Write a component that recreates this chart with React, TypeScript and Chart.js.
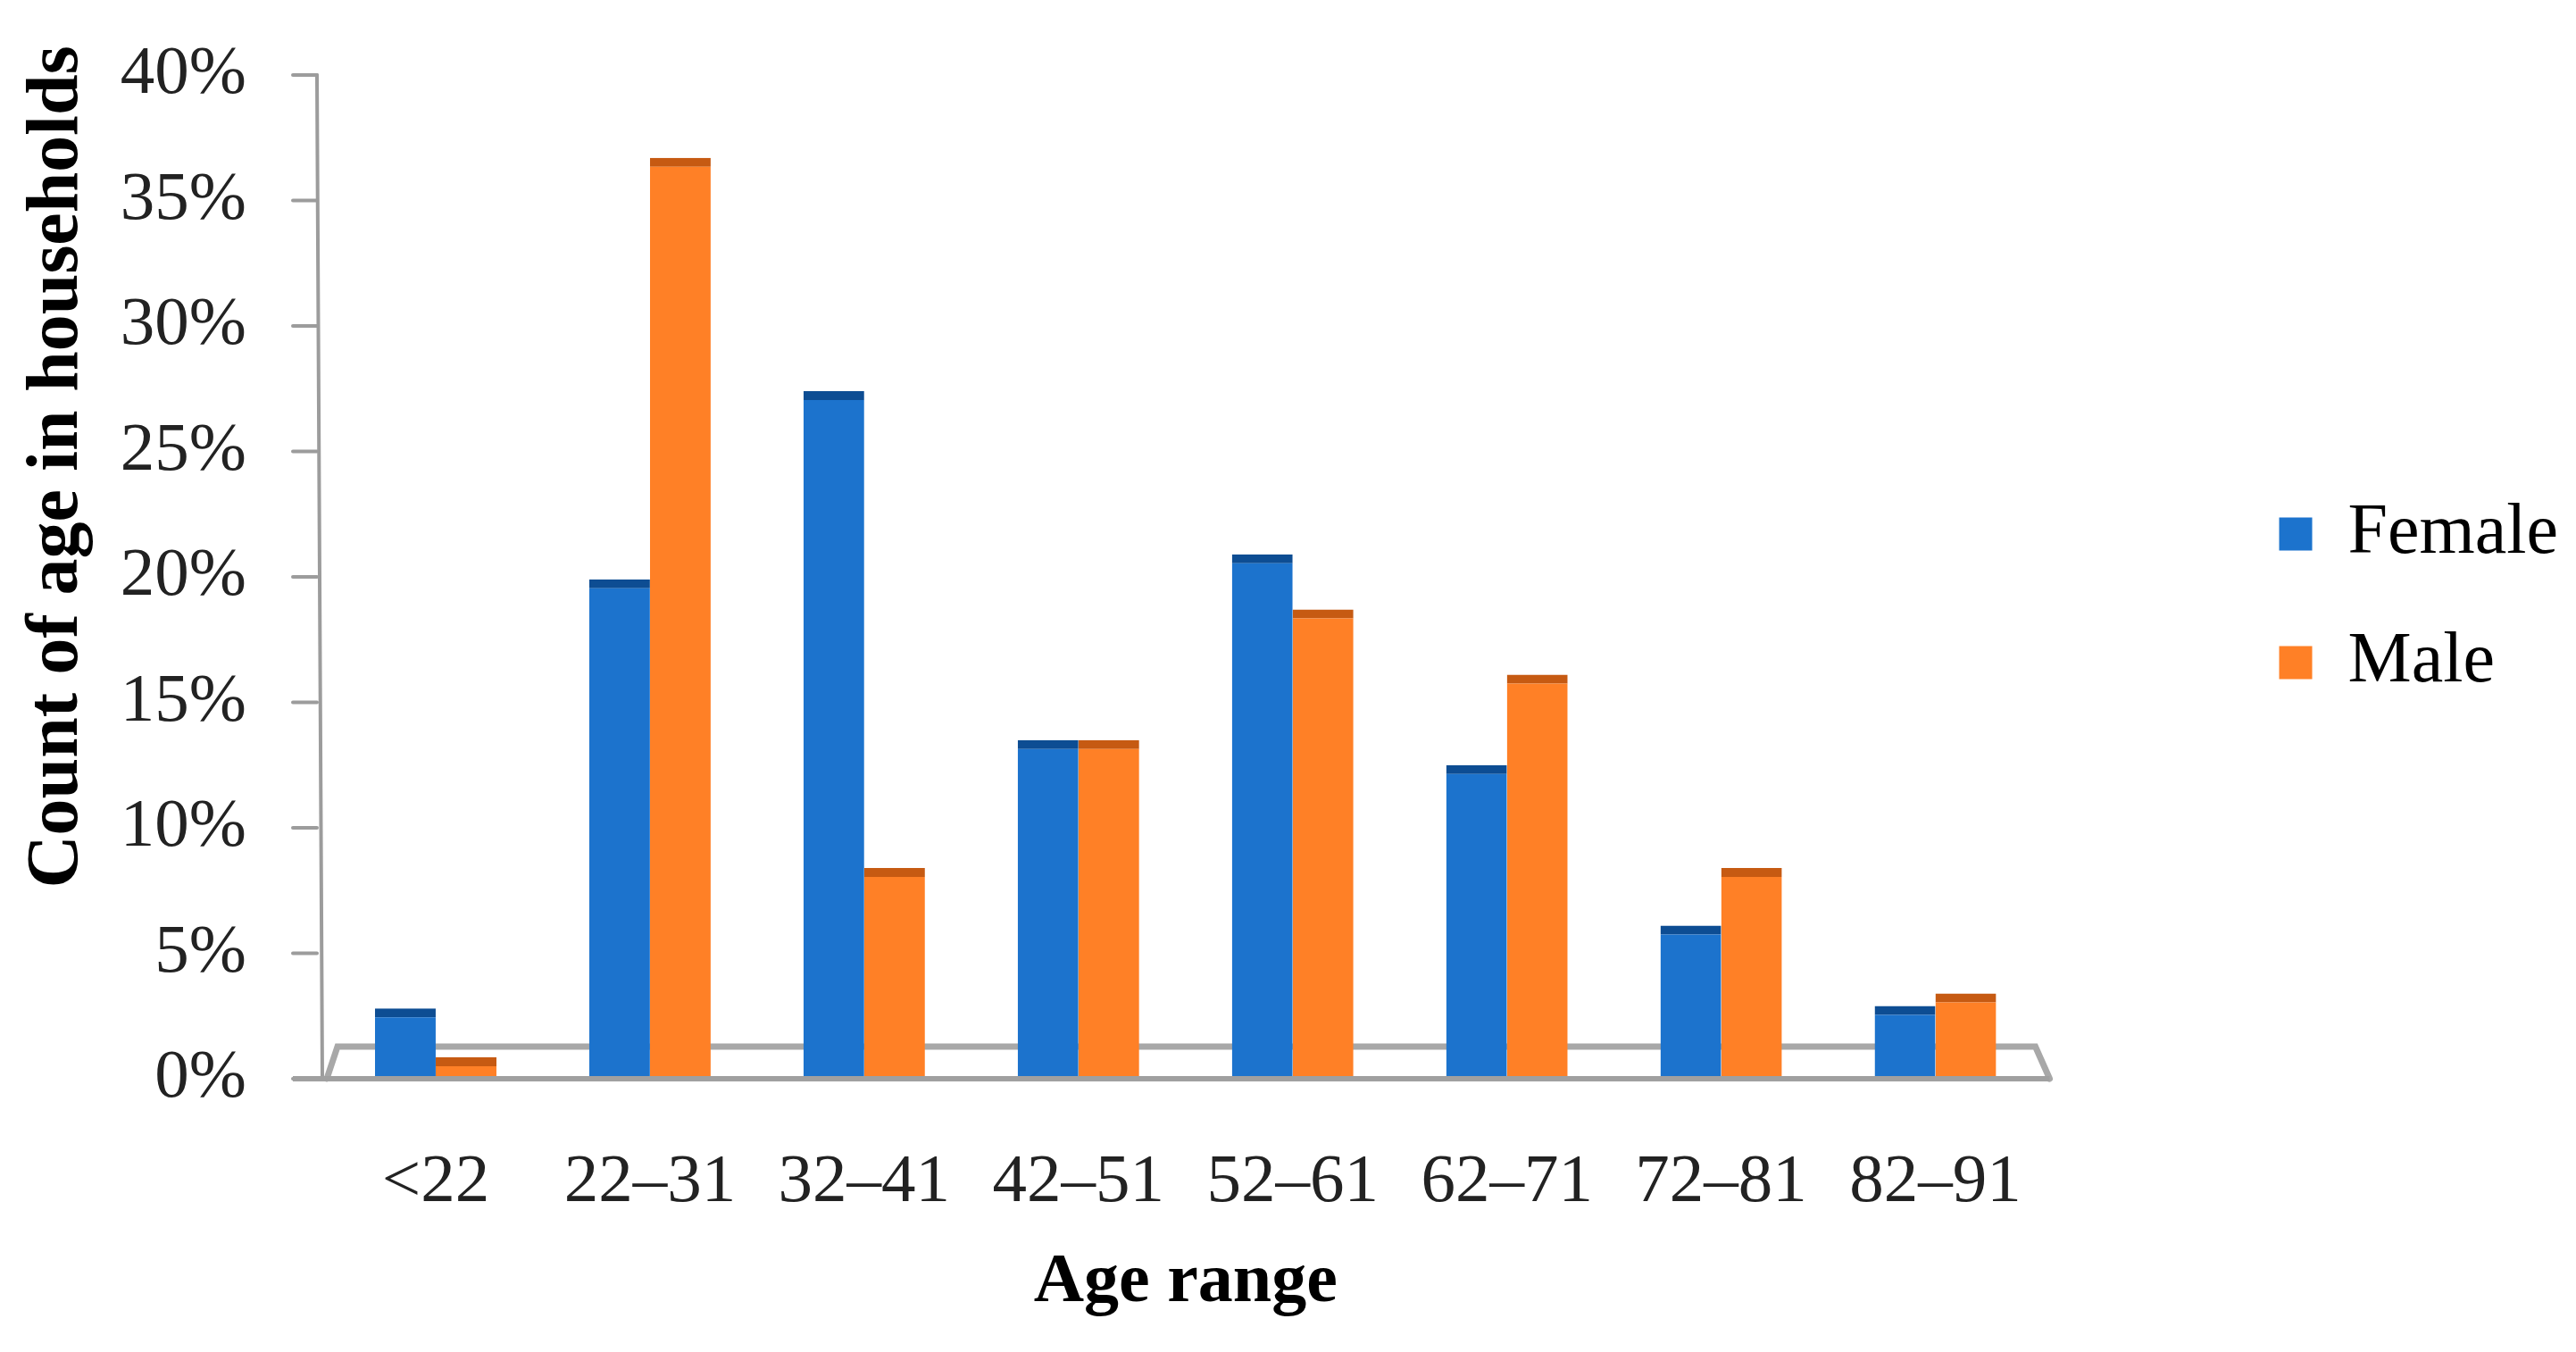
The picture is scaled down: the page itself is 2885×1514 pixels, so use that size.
import { useEffect, useRef } from 'react';
import { Chart, registerables } from 'chart.js';

Chart.register(...registerables);

const categories = ['<22', '22–31', '32–41', '42–51', '52–61', '62–71', '72–81', '82–91'];
const femaleValues = [2.8, 19.9, 27.4, 13.5, 20.9, 12.5, 6.1, 2.9];
const maleValues = [0.85, 36.7, 8.4, 13.5, 18.7, 16.1, 8.4, 3.4];
const seriesNames = ['Female', 'Male'];
const yTickValues = [0, 5, 10, 15, 20, 25, 30, 35, 40];
const yTitle = 'Count of age in households';
const xTitle = 'Age range';

const FONT = '"Liberation Serif", "Times New Roman", serif';

const frame3d = {
  id: 'frame3d',
  beforeDatasetsDraw(chart: any) {
    const { ctx, chartArea } = chart;
    const { left, right, bottom } = chartArea;
    const ys = chart.scales.y;
    const axisX = left - 13;
    ctx.save();
    ctx.lineCap = 'round';
    ctx.strokeStyle = '#9c9c9c';
    ctx.lineWidth = 4;
    ctx.beginPath();
    ctx.moveTo(axisX, ys.getPixelForValue(yTickValues[yTickValues.length - 1]));
    ctx.lineTo(axisX + 6, bottom);
    ctx.stroke();
    yTickValues.forEach((v) => {
      const py = ys.getPixelForValue(v);
      ctx.beginPath();
      ctx.moveTo(axisX - 27, py);
      ctx.lineTo(axisX, py);
      ctx.stroke();
    });
    ctx.strokeStyle = '#a8a8a8';
    ctx.lineWidth = 7;
    ctx.beginPath();
    ctx.moveTo(left - 2, bottom);
    ctx.lineTo(left + 10, bottom - 36);
    ctx.lineTo(right - 8, bottom - 36);
    ctx.lineTo(right + 8, bottom);
    ctx.stroke();
    ctx.restore();
  },
  afterDatasetsDraw(chart: any) {
    const { ctx, chartArea } = chart;
    const { left, right, bottom } = chartArea;
    ctx.save();
    ctx.strokeStyle = '#a0a0a0';
    ctx.lineWidth = 6;
    ctx.beginPath();
    ctx.moveTo(left - 40, bottom);
    ctx.lineTo(right + 8, bottom);
    ctx.stroke();
    ctx.restore();
  },
  afterDraw(chart: any) {
    const { ctx } = chart;
    ctx.save();
    ctx.translate(65, 523);
    ctx.rotate(-Math.PI / 2);
    ctx.font = 'bold 82px ' + FONT;
    ctx.fillStyle = '#000';
    ctx.textAlign = 'center';
    ctx.textBaseline = 'middle';
    ctx.fillText(yTitle, 0, 0);
    ctx.restore();
  },
};

export default function App() {
  const ref = useRef<HTMLCanvasElement | null>(null);

  useEffect(() => {
    if (!ref.current) return;
    const chart = new Chart(ref.current, {
      type: 'bar',
      data: {
        labels: categories,
        datasets: [
          {
            label: seriesNames[0],
            data: femaleValues,
            backgroundColor: '#1c73cd',
            borderColor: '#0d4d93',
            borderWidth: { top: 10, left: 0, right: 0, bottom: 0 },
            borderSkipped: false,
            categoryPercentage: 0.567,
            barPercentage: 1.0,
          },
          {
            label: seriesNames[1],
            data: maleValues,
            backgroundColor: '#ff8026',
            borderColor: '#c65a12',
            borderWidth: { top: 10, left: 0, right: 0, bottom: 0 },
            borderSkipped: false,
            categoryPercentage: 0.567,
            barPercentage: 1.0,
          },
        ],
      },
      options: {
        animation: false,
        responsive: true,
        maintainAspectRatio: false,
        devicePixelRatio: 1,
        layout: { padding: { top: 84, left: 0, right: 10, bottom: 0 } },
        plugins: {
          tooltip: { enabled: false },
          legend: {
            position: 'right',
            align: 'center',
            fullSize: false,
            title: { display: true, text: ' ', font: { size: 10, lineHeight: 1 }, padding: 19 },
            labels: {
              boxWidth: 37,
              boxHeight: 37,
              padding: 64,
              color: '#000',
              font: { family: FONT, size: 80 },
              generateLabels: (c: any) =>
                Chart.defaults.plugins.legend.labels
                  .generateLabels(c)
                  .map((l: any) => ({ ...l, lineWidth: 0, strokeStyle: 'rgba(0,0,0,0)' })),
            },
          },
        },
        scales: {
          x: {
            grid: { display: false, drawTicks: false },
            border: { display: false },
            ticks: {
              padding: 71,
              color: '#222',
              autoSkip: false,
              maxRotation: 0,
              font: { family: FONT, size: 77 },
            },
            title: {
              display: true,
              text: xTitle,
              color: '#000',
              font: { family: FONT, size: 78, weight: 'bold' },
              padding: { top: 0, bottom: 30 },
            },
            afterFit: (s: any) => {
              s.height = 306;
            },
          },
          y: {
            min: 0,
            max: 40,
            grid: {
              display: true,
              drawOnChartArea: false,
              drawTicks: true,
              tickLength: 62,
              color: 'rgba(0,0,0,0)',
            },
            border: { display: false },
            ticks: {
              stepSize: 5,
              padding: 30,
              color: '#222',
              font: { family: FONT, size: 77 },
              callback: (v: any) => v + '%',
            },
            afterFit: (s: any) => {
              s.width = 368;
            },
          },
          y2: {
            position: 'right',
            grid: { display: false, drawTicks: false },
            border: { display: false },
            ticks: { display: false },
            afterFit: (s: any) => {
              s.width = 201;
            },
          },
        },
      } as any,
      plugins: [frame3d],
    });
    return () => chart.destroy();
  }, []);

  return (
    <div
      style={{
        position: 'fixed',
        left: 0,
        top: 0,
        width: 2885,
        height: 1514,
        background: '#fff',
      }}
    >
      <canvas ref={ref} />
    </div>
  );
}
